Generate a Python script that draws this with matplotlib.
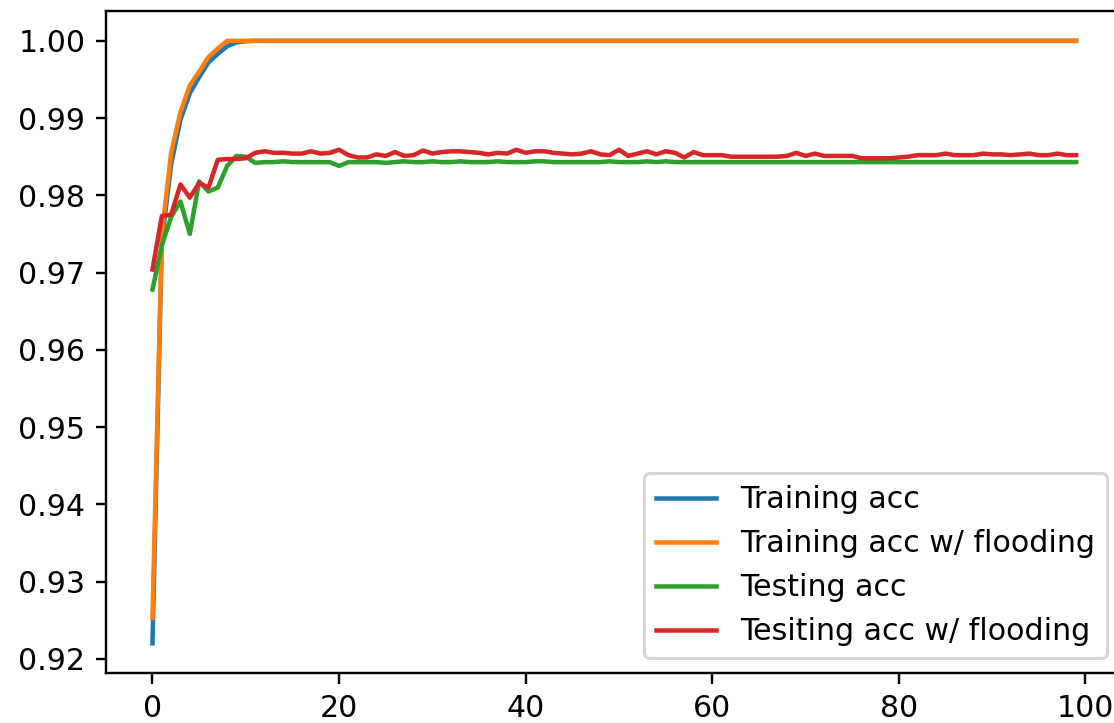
import numpy as np
import matplotlib.pyplot as plt

epochs = np.arange(100)

train_acc = [0.9220, 0.9740, 0.9840, 0.9898, 0.9932, 0.9953, 0.9972, 0.9983, 0.9993, 0.9998,
             0.99995, 1.0, 1.0, 1.0, 1.0, 1.0, 1.0, 1.0, 1.0, 1.0,
             1.0, 1.0, 1.0, 1.0, 1.0, 1.0, 1.0, 1.0, 1.0, 1.0,
             1.0, 1.0, 1.0, 1.0, 1.0, 1.0, 1.0, 1.0, 1.0, 1.0,
             1.0, 1.0, 1.0, 1.0, 1.0, 1.0, 1.0, 1.0, 1.0, 1.0,
             1.0, 1.0, 1.0, 1.0, 1.0, 1.0, 1.0, 1.0, 1.0, 1.0,
             1.0, 1.0, 1.0, 1.0, 1.0, 1.0, 1.0, 1.0, 1.0, 1.0,
             1.0, 1.0, 1.0, 1.0, 1.0, 1.0, 1.0, 1.0, 1.0, 1.0,
             1.0, 1.0, 1.0, 1.0, 1.0, 1.0, 1.0, 1.0, 1.0, 1.0,
             1.0, 1.0, 1.0, 1.0, 1.0, 1.0, 1.0, 1.0, 1.0, 1.0]

train_acc_flood = [0.9253, 0.9750, 0.9855, 0.9908, 0.9942, 0.9960, 0.9979, 0.9990, 1.0, 1.0,
                   1.0, 1.0, 1.0, 1.0, 1.0, 1.0, 1.0, 1.0, 1.0, 1.0,
                   1.0, 1.0, 1.0, 1.0, 1.0, 1.0, 1.0, 1.0, 1.0, 1.0,
                   1.0, 1.0, 1.0, 1.0, 1.0, 1.0, 1.0, 1.0, 1.0, 1.0,
                   1.0, 1.0, 1.0, 1.0, 1.0, 1.0, 1.0, 1.0, 1.0, 1.0,
                   1.0, 1.0, 1.0, 1.0, 1.0, 1.0, 1.0, 1.0, 1.0, 1.0,
                   1.0, 1.0, 1.0, 1.0, 1.0, 1.0, 1.0, 1.0, 1.0, 1.0,
                   1.0, 1.0, 1.0, 1.0, 1.0, 1.0, 1.0, 1.0, 1.0, 1.0,
                   1.0, 1.0, 1.0, 1.0, 1.0, 1.0, 1.0, 1.0, 1.0, 1.0,
                   1.0, 1.0, 1.0, 1.0, 1.0, 1.0, 1.0, 1.0, 1.0, 1.0]

test_acc = [0.9678, 0.9735, 0.9772, 0.9792, 0.9750, 0.9818, 0.9805, 0.9810, 0.9838, 0.9851,
            0.9850, 0.9842, 0.9843, 0.9843, 0.9844, 0.9843, 0.9843, 0.9843, 0.9843, 0.9843,
            0.9838, 0.9843, 0.9843, 0.9843, 0.9843, 0.9842, 0.9843, 0.9844, 0.9843, 0.9843,
            0.9844, 0.9843, 0.9843, 0.9844, 0.9843, 0.9843, 0.9843, 0.9844, 0.9843, 0.9843,
            0.9843, 0.9844, 0.9844, 0.9843, 0.9843, 0.9843, 0.9843, 0.9843, 0.9843, 0.9844,
            0.9843, 0.9843, 0.9843, 0.9844, 0.9843, 0.9844, 0.9843, 0.9843, 0.9843, 0.9843,
            0.9843, 0.9843, 0.9843, 0.9843, 0.9843, 0.9843, 0.9843, 0.9843, 0.9843, 0.9843,
            0.9843, 0.9843, 0.9843, 0.9843, 0.9843, 0.9843, 0.9843, 0.9843, 0.9843, 0.9843,
            0.9843, 0.9843, 0.9843, 0.9843, 0.9843, 0.9843, 0.9843, 0.9843, 0.9843, 0.9843,
            0.9843, 0.9843, 0.9843, 0.9843, 0.9843, 0.9843, 0.9843, 0.9843, 0.9843, 0.9843]

test_acc_flood = [0.9704, 0.9773, 0.9775, 0.9814, 0.9797, 0.9816, 0.9810, 0.9846, 0.9847, 0.9847,
                  0.9848, 0.9855, 0.9857, 0.9855, 0.9855, 0.9854, 0.9854, 0.9857, 0.9854, 0.9855,
                  0.9859, 0.9852, 0.9849, 0.9849, 0.9853, 0.9851, 0.9856, 0.9851, 0.9852, 0.9858,
                  0.9854, 0.9856, 0.9857, 0.9857, 0.9856, 0.9855, 0.9853, 0.9855, 0.9854, 0.9859,
                  0.9855, 0.9857, 0.9857, 0.9855, 0.9854, 0.9853, 0.9854, 0.9857, 0.9853, 0.9852,
                  0.9859, 0.9851, 0.9854, 0.9857, 0.9853, 0.9857, 0.9855, 0.9849, 0.9856, 0.9852,
                  0.9852, 0.9852, 0.9850, 0.9850, 0.9850, 0.9850, 0.9850, 0.9850, 0.9851, 0.9855,
                  0.9851, 0.9854, 0.9851, 0.9851, 0.9851, 0.9851, 0.9848, 0.9848, 0.9848, 0.9848,
                  0.9849, 0.9850, 0.9852, 0.9852, 0.9852, 0.9854, 0.9852, 0.9852, 0.9852, 0.9854,
                  0.9853, 0.9853, 0.9852, 0.9853, 0.9854, 0.9852, 0.9852, 0.9854, 0.9852, 0.9852]

labels = ['Training acc', 'Training acc w/ flooding', 'Testing acc', 'Tesiting acc w/ flooding']

dpi = 216
fig = plt.figure(figsize=(1114 / dpi, 723 / dpi), dpi=dpi)
# the reference is cropped on the right, so the axes run past the figure edge
ax = fig.add_axes([106.3 / 1114, 0.0685, 1016 / 1114, 0.9167])

ax.plot(epochs, train_acc, label=labels[0])
ax.plot(epochs, train_acc_flood, label=labels[1])
ax.plot(epochs, test_acc, label=labels[2])
ax.plot(epochs, test_acc_flood, label=labels[3])

ax.legend(loc='lower right')

fig.savefig('out.png', dpi=dpi)
